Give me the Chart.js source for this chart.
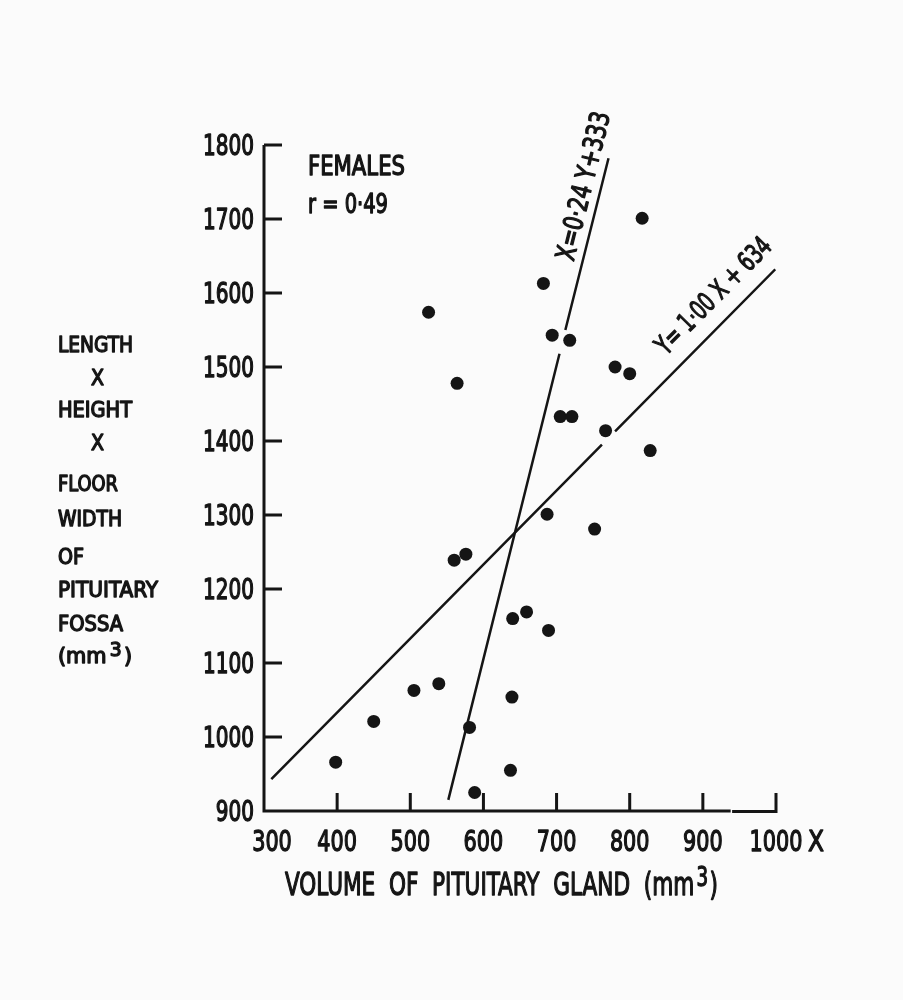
<!DOCTYPE html>
<html>
<head>
<meta charset="utf-8">
<script src="https://cdn.jsdelivr.net/npm/chart.js@4.4.1/dist/chart.umd.min.js"></script>
<style>
  html, body { margin: 0; padding: 0; background: #fbfbfb; }
  #wrap { width: 903px; height: 1000px; position: relative; }
</style>
</head>
<body>
<div id="wrap"><canvas id="chart"></canvas></div>
<script>
// Females: pituitary gland volume (x) vs fossa size (y)
const volume = [817, 682, 525, 694, 718, 564, 780, 800, 705, 721, 767, 828, 687, 752,
                560, 576, 640, 659, 689, 505, 539, 450, 398, 581, 639, 637, 588];
const fossa  = [1701, 1613, 1574, 1543, 1536, 1478, 1500, 1491, 1433, 1433, 1414, 1387, 1301, 1281,
                1239, 1247, 1160, 1169, 1144, 1063, 1072, 1021, 966, 1013, 1054, 955, 925];

const xTicks = [300, 400, 500, 600, 700, 800, 900, 1000];
const yTicks = [900, 1000, 1100, 1200, 1300, 1400, 1500, 1600, 1700, 1800];

// regression lines as drawn (y: null marks the little breaks in the ink)
const lineYonX = [{x: 310, y: 943}, {x: 762, y: 1395}, {x: 771, y: null}, {x: 780, y: 1413}, {x: 999, y: 1632}];
const lineXonY = [{x: 552, y: 915}, {x: 704, y: 1518}, {x: 708, y: null}, {x: 712, y: 1550}, {x: 771, y: 1782}];

const INK = '#151515';
const HEAVY = 1.3;   // extra stroke on the lettering

// pick a condensed face if one is installed
function hasFont(name) {
  const c = document.createElement('canvas').getContext('2d');
  c.font = '40px monospace';
  const a = c.measureText('LENGTH 1800').width;
  c.font = `40px "${name}", monospace`;
  return c.measureText('LENGTH 1800').width !== a;
}
const FACE = ['Liberation Sans Narrow', 'DejaVu Sans Condensed', 'Roboto Condensed'].find(hasFont) || 'Liberation Sans';

// stencil-ish lettering: fill plus a thin stroke to thicken it a little
function ink(ctx, str, x, y) {
  ctx.fillText(str, x, y);
  ctx.strokeText(str, x, y);
}

// draw text scaled horizontally (to a width, or by a factor)
function fitText(ctx, str, x, y, size, width, opt = {}) {
  ctx.font = `${size}px "${FACE}"`;
  const w = ctx.measureText(str).width;
  const sx = opt.sx || (width ? width / w : 1);
  const align = opt.align || 'left';
  const shift = align === 'right' ? -w : align === 'center' ? -w / 2 : 0;
  ctx.save();
  ctx.translate(x, y);
  ctx.scale(sx, 1);
  ctx.textAlign = 'left';
  ctx.textBaseline = 'alphabetic';
  ctx.lineWidth = HEAVY;
  ctx.lineJoin = 'round';
  ink(ctx, str, shift, 0);
  ctx.restore();
  return w * sx;
}

// text with a raised "3" (mm3)
function cubeText(ctx, before, after, x, y, size, supSize, rise, sx) {
  ctx.save();
  ctx.translate(x, y);
  ctx.scale(sx, 1);
  ctx.textBaseline = 'alphabetic';
  ctx.textAlign = 'left';
  ctx.lineWidth = HEAVY;
  ctx.lineJoin = 'round';
  ctx.font = `${size}px "${FACE}"`;
  ink(ctx, before, 0, 0);
  let cx = ctx.measureText(before).width + 3;
  ctx.font = `${supSize}px "${FACE}"`;
  ink(ctx, '3', cx, -rise);
  cx += ctx.measureText('3').width + 2;
  ctx.font = `${size}px "${FACE}"`;
  ink(ctx, after, cx, 0);
  ctx.restore();
}

function cubeWidth(ctx, before, after, size, supSize) {
  ctx.font = `${size}px "${FACE}"`;
  let w = ctx.measureText(before).width + ctx.measureText(after).width + 5;
  ctx.font = `${supSize}px "${FACE}"`;
  return w + ctx.measureText('3').width;
}

// label along a line, baseline starting at a data point
function lineLabel(ctx, chart, data, anchor, str, size, len) {
  const xs = chart.scales.x, ys = chart.scales.y;
  const pts = data.filter(p => p.y !== null);
  const a = pts[0], b = pts[pts.length - 1];
  const ang = Math.atan2(ys.getPixelForValue(b.y) - ys.getPixelForValue(a.y),
                         xs.getPixelForValue(b.x) - xs.getPixelForValue(a.x));
  ctx.save();
  ctx.translate(xs.getPixelForValue(anchor.x), ys.getPixelForValue(anchor.y));
  ctx.rotate(ang);
  fitText(ctx, str, 0, 0, size, len);
  ctx.restore();
}

const figureInk = {
  id: 'figureInk',
  afterDraw(chart) {
    const ctx = chart.ctx;
    const xs = chart.scales.x, ys = chart.scales.y;
    const x0 = xs.getPixelForValue(300), y0 = ys.getPixelForValue(900);
    ctx.save();
    ctx.strokeStyle = INK;
    ctx.fillStyle = INK;
    ctx.lineWidth = 3;
    ctx.lineCap = 'butt';

    // axes with inward ticks
    ctx.beginPath();
    ctx.moveTo(x0, ys.getPixelForValue(1800));
    ctx.lineTo(x0, y0 + 1.5);
    ctx.moveTo(x0 - 1.5, y0);
    ctx.lineTo(xs.getPixelForValue(938), y0);
    ctx.moveTo(xs.getPixelForValue(940), y0 + 0.5);
    ctx.lineTo(xs.getPixelForValue(1000) + 1.5, y0 + 0.5);
    yTicks.slice(1).forEach(v => {
      const py = ys.getPixelForValue(v);
      ctx.moveTo(x0, py);
      ctx.lineTo(x0 + 18, py);
    });
    xTicks.slice(1).forEach(v => {
      const px = xs.getPixelForValue(v);
      ctx.moveTo(px, y0);
      ctx.lineTo(px, y0 - 18);
    });
    ctx.stroke();

    // tick labels, squeezed to the narrow lettering of the figure
    ctx.font = `28px "${FACE}"`;
    const tsx = 51 / ctx.measureText('1800').width;
    ys.ticks.forEach(t => {
      fitText(ctx, String(t.value), x0 - 10, ys.getPixelForValue(t.value) + 10, 28, 0, {sx: tsx, align: 'right'});
    });
    xs.ticks.forEach((t, i) => {
      const px = xs.getPixelForValue(t.value) + (i === 0 ? 8 : 0);
      fitText(ctx, String(t.value), px, y0 + 40, 29, 0, {sx: tsx, align: 'center'});
    });
    // "X" after the last x tick label
    fitText(ctx, 'X', xs.getPixelForValue(1000) + 32, y0 + 40, 29, 16);

    // x axis title
    const tSize = 32, tSup = 27;
    const natural = cubeWidth(ctx, 'VOLUME  OF  PITUITARY  GLAND  (mm', ')', tSize, tSup);
    cubeText(ctx, 'VOLUME  OF  PITUITARY  GLAND  (mm', ')', 285, 895, tSize, tSup, 9, 433 / natural);

    // y axis title, stacked words
    const words = [
      ['LENGTH', 58, 352, 75], ['X', 91, 385, 13], ['HEIGHT', 58, 417, 74], ['X', 91, 450, 13],
      ['FLOOR', 58, 491, 60], ['WIDTH', 58, 526, 64], ['OF', 58, 564, 26],
      ['PITUITARY', 58, 597, 100], ['FOSSA', 58, 631, 65]
    ];
    words.forEach(([w, x, y, len]) => fitText(ctx, w, x, y, 21, len));
    const cw = cubeWidth(ctx, '(mm', ')', 21, 19);
    cubeText(ctx, '(mm', ')', 58, 663, 21, 19, 7, 74 / cw);

    // sample note
    fitText(ctx, 'FEMALES', 308, 175, 27, 97);
    fitText(ctx, 'r = 0·49', 308, 213, 27, 80);

    // equations beside the regression lines
    lineLabel(ctx, chart, lineXonY, {x: 723, y: 1642}, 'X=0·24 Y+333', 27, 152);
    lineLabel(ctx, chart, lineYonX, {x: 850, y: 1515}, 'Y= 1·00 X + 634', 27, 152);
    ctx.restore();
  }
};

new Chart(document.getElementById('chart'), {
  type: 'scatter',
  data: {
    datasets: [
      {
        label: 'Females',
        data: volume.map((v, i) => ({x: v, y: fossa[i]})),
        backgroundColor: INK,
        borderWidth: 0,
        pointRadius: 6.5
      },
      {
        label: 'Y on X',
        data: lineYonX,
        showLine: true,
        borderColor: INK,
        borderWidth: 2.5,
        pointRadius: 0
      },
      {
        label: 'X on Y',
        data: lineXonY,
        showLine: true,
        borderColor: INK,
        borderWidth: 2.5,
        pointRadius: 0
      }
    ]
  },
  options: {
    responsive: true,
    maintainAspectRatio: false,
    animation: false,
    layout: { padding: { top: 145, right: 127, bottom: 0, left: 0 } },
    plugins: { legend: { display: false }, tooltip: { enabled: false } },
    scales: {
      x: {
        type: 'linear',
        min: 300, max: 1000,
        afterFit(s) { s.height = 189; },
        afterBuildTicks(s) { s.ticks = xTicks.map(v => ({value: v})); },
        grid: { display: false, drawTicks: false },
        border: { display: false },
        ticks: { display: false }
      },
      y: {
        type: 'linear',
        min: 900, max: 1800,
        afterFit(s) { s.width = 264; },
        afterBuildTicks(s) { s.ticks = yTicks.map(v => ({value: v})); },
        grid: { display: false, drawTicks: false },
        border: { display: false },
        ticks: { display: false }
      }
    }
  },
  plugins: [figureInk]
});
</script>
</body>
</html>
